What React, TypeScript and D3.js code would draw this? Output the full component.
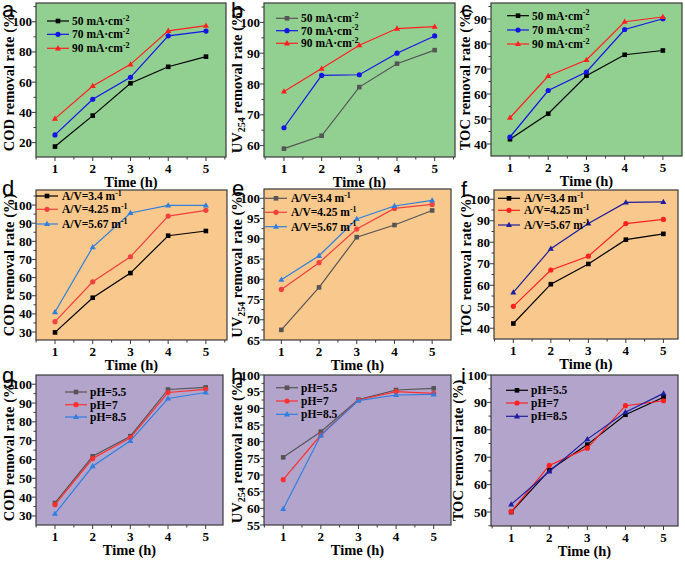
import React from "react";
import * as d3 from "d3";

// ---------- data ----------
const times = [1, 2, 3, 4, 5];
const xTickLabels = ["1", "2", "3", "4", "5"];

const currentLabels = ["50 mA·cm", "70 mA·cm", "90 mA·cm"];
const currentSup = "-2";
const avLabels = ["A/V=3.4 m", "A/V=4.25 m", "A/V=5.67 m"];
const avSup = "-1";
const phLabels = ["pH=5.5", "pH=7", "pH=8.5"];

// (a) COD vs current density
const curCOD50 = [17.4, 37.9, 59.3, 70.2, 76.9];
const curCOD70 = [25.1, 48.7, 63.2, 90.7, 93.8];
const curCOD90 = [35.9, 57.5, 71.8, 94.0, 97.4];
// (b) UV254 vs current density
const curUV50 = [59.0, 63.2, 79.0, 86.6, 91.0];
const curUV70 = [65.8, 82.8, 83.0, 90.0, 95.6];
const curUV90 = [77.6, 85.0, 92.6, 98.0, 98.6];
// (c) TOC vs current density
const curTOC50 = [41.9, 52.1, 67.3, 75.7, 77.4];
const curTOC70 = [42.8, 61.4, 68.8, 85.8, 90.1];
const curTOC90 = [50.5, 67.2, 73.6, 88.9, 90.8];
// (d) COD vs A/V
const avCOD34 = [29.8, 48.9, 62.5, 83.1, 85.7];
const avCOD425 = [35.7, 57.7, 71.5, 93.9, 97.1];
const avCOD567 = [41.0, 76.8, 95.6, 99.8, 99.8];
// (e) UV254 vs A/V
const avUV34 = [67.5, 78.0, 90.4, 93.4, 97.0];
const avUV425 = [77.5, 84.1, 92.4, 97.5, 98.5];
const avUV567 = [79.9, 85.8, 94.9, 98.1, 99.5];
// (f) TOC vs A/V
const avTOC34 = [42.2, 60.5, 69.9, 81.2, 83.9];
const avTOC425 = [50.2, 67.1, 73.5, 88.7, 90.6];
const avTOC567 = [56.7, 77.0, 88.7, 98.5, 98.8];
// (g) COD vs pH
const phCOD55 = [36.9, 61.7, 72.4, 97.2, 98.3];
const phCOD7 = [36.0, 60.5, 71.6, 95.6, 97.3];
const phCOD85 = [31.2, 56.4, 69.9, 92.4, 95.6];
// (h) UV254 vs pH
const phUV55 = [75.3, 83.0, 92.6, 95.5, 96.0];
const phUV7 = [68.6, 82.0, 92.5, 95.0, 94.5];
const phUV85 = [59.8, 81.9, 92.3, 94.0, 94.2];
// (i) TOC vs pH
const phTOC55 = [50.0, 65.2, 74.6, 85.5, 91.9];
const phTOC7 = [50.1, 67.0, 73.3, 88.8, 90.6];
const phTOC85 = [52.8, 64.8, 76.6, 86.4, 93.3];

const yTicksA = [20, 40, 60, 80, 100];
const yTicksB = [60, 70, 80, 90, 100];
const yTicksC = [40, 50, 60, 70, 80, 90];
const yTicksD = [30, 40, 50, 60, 70, 80, 90, 100];
const yTicksE = [65, 70, 75, 80, 85, 90, 95, 100];
const yTicksF = [40, 50, 60, 70, 80, 90, 100];
const yTicksG = [30, 40, 50, 60, 70, 80, 90, 100];
const yTicksH = [55, 60, 65, 70, 75, 80, 85, 90, 95, 100];
const yTicksI = [50, 60, 70, 80, 90, 100];

// ---------- styles ----------
const GREEN = "#92d092";
const ORANGE = "#f9c88c";
const PURPLE = "#b3a4cc";
const SERIF = "'Liberation Serif', 'Times New Roman', serif";
const SANS = "'Liberation Sans', Arial, sans-serif";

type Panel = {
  letter: string;
  lx: number; ly: number;
  rect: { l: number; r: number; t: number; b: number };
  xd: [number, number];
  yd: [number, number];
  yTicks: number[];
  ytitle: "COD" | "UV" | "TOC";
  titleX: number;
  bg: string;
  series: number[][];
  colors: string[];
  labels: string[];
  sup: string | null;
  legend: { x0: number; x1: number; tx: number; ys: number[] };
};

const panels: Panel[] = [
  { letter: "a", lx: 2, ly: 17, rect: { l: 36, r: 226, t: 3, b: 157 }, xd: [0.497, 5.53], yd: [10.5, 112.4], yTicks: yTicksA, ytitle: "COD", titleX: 14, bg: GREEN,
    series: [curCOD50, curCOD70, curCOD90], colors: ["#000000", "#1414e6", "#ff1f1f"], labels: currentLabels, sup: currentSup,
    legend: { x0: 47, x1: 69, tx: 72, ys: [21, 34.3, 48.3] } },
  { letter: "b", lx: 231, ly: 18, rect: { l: 264, r: 455, t: 3, b: 157 }, xd: [0.47, 5.54], yd: [56.3, 106.3], yTicks: yTicksB, ytitle: "UV", titleX: 242, bg: GREEN,
    series: [curUV50, curUV70, curUV90], colors: ["#555555", "#1414e6", "#ff1f1f"], labels: currentLabels, sup: currentSup,
    legend: { x0: 276, x1: 298, tx: 301, ys: [18.3, 30.7, 43.3] } },
  { letter: "c", lx: 461, ly: 17, rect: { l: 491, r: 682, t: 3, b: 156 }, xd: [0.503, 5.5], yd: [35.2, 96.4], yTicks: yTicksC, ytitle: "TOC", titleX: 470, bg: GREEN,
    series: [curTOC50, curTOC70, curTOC90], colors: ["#000000", "#1414e6", "#ff1f1f"], labels: currentLabels, sup: currentSup,
    legend: { x0: 507, x1: 529, tx: 532, ys: [15.7, 30, 44] } },
  { letter: "d", lx: 2, ly: 196, rect: { l: 36, r: 227, t: 190, b: 340 }, xd: [0.496, 5.56], yd: [25.6, 108.3], yTicks: yTicksD, ytitle: "COD", titleX: 14, bg: ORANGE,
    series: [avCOD34, avCOD425, avCOD567], colors: ["#000000", "#f04040", "#2f7fe0"], labels: avLabels, sup: avSup,
    legend: { x0: 36, x1: 58, tx: 62, ys: [196, 209.3, 224] } },
  { letter: "e", lx: 232, ly: 196, rect: { l: 264, r: 451, t: 189, b: 340 }, xd: [0.54, 5.5], yd: [65, 102.3], yTicks: yTicksE, ytitle: "UV", titleX: 242, bg: ORANGE,
    series: [avUV34, avUV425, avUV567], colors: ["#555555", "#f04040", "#2f7fe0"], labels: avLabels, sup: avSup,
    legend: { x0: 265, x1: 287, tx: 291, ys: [198.3, 212.3, 226.7] } },
  { letter: "f", lx: 461, ly: 197, rect: { l: 494, r: 678, t: 190, b: 339 }, xd: [0.485, 5.39], yd: [35.0, 104.3], yTicks: yTicksF, ytitle: "TOC", titleX: 471, bg: ORANGE,
    series: [avTOC34, avTOC425, avTOC567], colors: ["#000000", "#ff2020", "#1e1e9e"], labels: avLabels, sup: avSup,
    legend: { x0: 498, x1: 520, tx: 524, ys: [198.3, 210.3, 225] } },
  { letter: "g", lx: 2, ly: 383, rect: { l: 36, r: 223, t: 375, b: 525 }, xd: [0.496, 5.46], yd: [25.2, 104.9], yTicks: yTicksG, ytitle: "COD", titleX: 14, bg: PURPLE,
    series: [phCOD55, phCOD7, phCOD85], colors: ["#555555", "#ff3030", "#2f7fe0"], labels: phLabels, sup: null,
    legend: { x0: 65, x1: 87, tx: 90, ys: [392, 404.7, 417] } },
  { letter: "h", lx: 231, ly: 384, rect: { l: 264, r: 451, t: 375, b: 525 }, xd: [0.49, 5.46], yd: [55, 100], yTicks: yTicksH, ytitle: "UV", titleX: 242, bg: PURPLE,
    series: [phUV55, phUV7, phUV85], colors: ["#555555", "#ff3030", "#2f7fe0"], labels: phLabels, sup: null,
    legend: { x0: 276, x1: 298, tx: 301, ys: [387.7, 401, 414.3] } },
  { letter: "i", lx: 461, ly: 384, rect: { l: 491, r: 678, t: 375, b: 526 }, xd: [0.47, 5.38], yd: [44.9, 100], yTicks: yTicksI, ytitle: "TOC", titleX: 463, bg: PURPLE,
    series: [phTOC55, phTOC7, phTOC85], colors: ["#000000", "#ff2020", "#1e1e9e"], labels: phLabels, sup: null,
    legend: { x0: 506, x1: 528, tx: 531, ys: [390.3, 403, 416.3] } },
];

function Marker({ kind, x, y, color }: { kind: number; x: number; y: number; color: string }) {
  if (kind === 0) return <rect x={x - 2.3} y={y - 2.3} width={4.6} height={4.6} fill={color} />;
  if (kind === 1) return <circle cx={x} cy={y} r={2.6} fill={color} />;
  const s = 3.2;
  return <path d={`M${x},${y - s}L${x + s * 0.95},${y + s * 0.65}L${x - s * 0.95},${y + s * 0.65}Z`} fill={color} />;
}

function YTitle({ p }: { p: Panel }) {
  const cy = (p.rect.t + p.rect.b) / 2;
  const common = {
    transform: `translate(${p.titleX},${cy}) rotate(-90)`,
    textAnchor: "middle" as const,
    fontFamily: SERIF,
    fontWeight: "bold" as const,
    fontSize: 14.5,
    fill: "#000",
  };
  if (p.ytitle === "UV") {
    return (
      <text {...common}>
        UV<tspan dy={3} fontSize={10}>254</tspan>
        <tspan dy={-3}> removal rate (%)</tspan>
      </text>
    );
  }
  return <text {...common}>{p.ytitle} removal rate (%)</text>;
}

function PanelView({ p }: { p: Panel }) {
  const { l, r, t, b } = p.rect;
  const x = d3.scaleLinear().domain(p.xd).range([l, r]);
  const y = d3.scaleLinear().domain(p.yd).range([b, t]);
  const line = d3.line<number>().x((_, i) => x(times[i])).y((v) => y(v));
  const stepY = p.yTicks[1] - p.yTicks[0];
  const minorY = p.yTicks.map((v) => v + stepY / 2).filter((v) => v > p.yd[0] && v < p.yd[1]);
  const minorY0 = p.yTicks[0] - stepY / 2;
  if (minorY0 > p.yd[0]) minorY.push(minorY0);
  const minorX = [0.5, 1.5, 2.5, 3.5, 4.5, 5.5].filter((v) => v > p.xd[0] && v < p.xd[1]);
  const frame = "#3a3a3a";
  return (
    <g>
      <rect x={l} y={t} width={r - l} height={b - t} fill={p.bg} />
      {p.series.map((s, si) => (
        <g key={si}>
          <path d={line(s) || ""} fill="none" stroke={p.colors[si]} strokeWidth={1.2} />
          {s.map((v, i) => (
            <Marker key={i} kind={si} x={x(times[i])} y={y(v)} color={p.colors[si]} />
          ))}
        </g>
      ))}
      <rect x={l} y={t} width={r - l} height={b - t} fill="none" stroke={frame} strokeWidth={1.2} />
      {/* x ticks */}
      {times.map((tv, i) => (
        <g key={i}>
          <line x1={x(tv)} x2={x(tv)} y1={b} y2={b + 4} stroke={frame} strokeWidth={1} />
          <text x={x(tv)} y={b + 15.5} textAnchor="middle" fontFamily={SERIF} fontWeight="bold" fontSize={13}>
            {xTickLabels[i]}
          </text>
        </g>
      ))}
      {minorX.map((v, i) => (
        <line key={i} x1={x(v)} x2={x(v)} y1={b} y2={b + 2.5} stroke={frame} strokeWidth={1} />
      ))}
      {/* y ticks */}
      {p.yTicks.map((v, i) => (
        <g key={i}>
          <line x1={l - 4} x2={l} y1={y(v)} y2={y(v)} stroke={frame} strokeWidth={1} />
          <text x={l - 4} y={y(v) + 4.5} textAnchor="end" fontFamily={SERIF} fontWeight="bold" fontSize={13}>
            {v}
          </text>
        </g>
      ))}
      {minorY.map((v, i) => (
        <line key={i} x1={l - 2.5} x2={l} y1={y(v)} y2={y(v)} stroke={frame} strokeWidth={1} />
      ))}
      <text x={(l + r) / 2} y={b + 29.5} textAnchor="middle" fontFamily={SERIF} fontWeight="bold" fontSize={14.5}>
        Time (h)
      </text>
      <YTitle p={p} />
      {/* legend */}
      {p.labels.map((lab, i) => {
        const ly = p.legend.ys[i];
        return (
          <g key={i}>
            <line x1={p.legend.x0} x2={p.legend.x1} y1={ly} y2={ly} stroke={p.colors[i]} strokeWidth={1.2} />
            <Marker kind={i} x={(p.legend.x0 + p.legend.x1) / 2} y={ly} color={p.colors[i]} />
            <text x={p.legend.tx} y={ly + 4} fontFamily={SERIF} fontWeight="bold" fontSize={11.5}>
              {lab}
              {p.sup && (
                <tspan dy={-4.5} fontSize={8}>
                  {p.sup}
                </tspan>
              )}
            </text>
          </g>
        );
      })}
      <text x={p.lx} y={p.ly} fontFamily={SANS} fontSize={22} fill="#000">
        {p.letter}
      </text>
    </g>
  );
}

export default function App() {
  return (
    <svg width={685} height={561} style={{ position: "absolute", left: 0, top: 0, background: "#fff" }}>
      <rect x={0} y={0} width={685} height={561} fill="#fff" />
      {panels.map((p) => (
        <PanelView key={p.letter} p={p} />
      ))}
    </svg>
  );
}
